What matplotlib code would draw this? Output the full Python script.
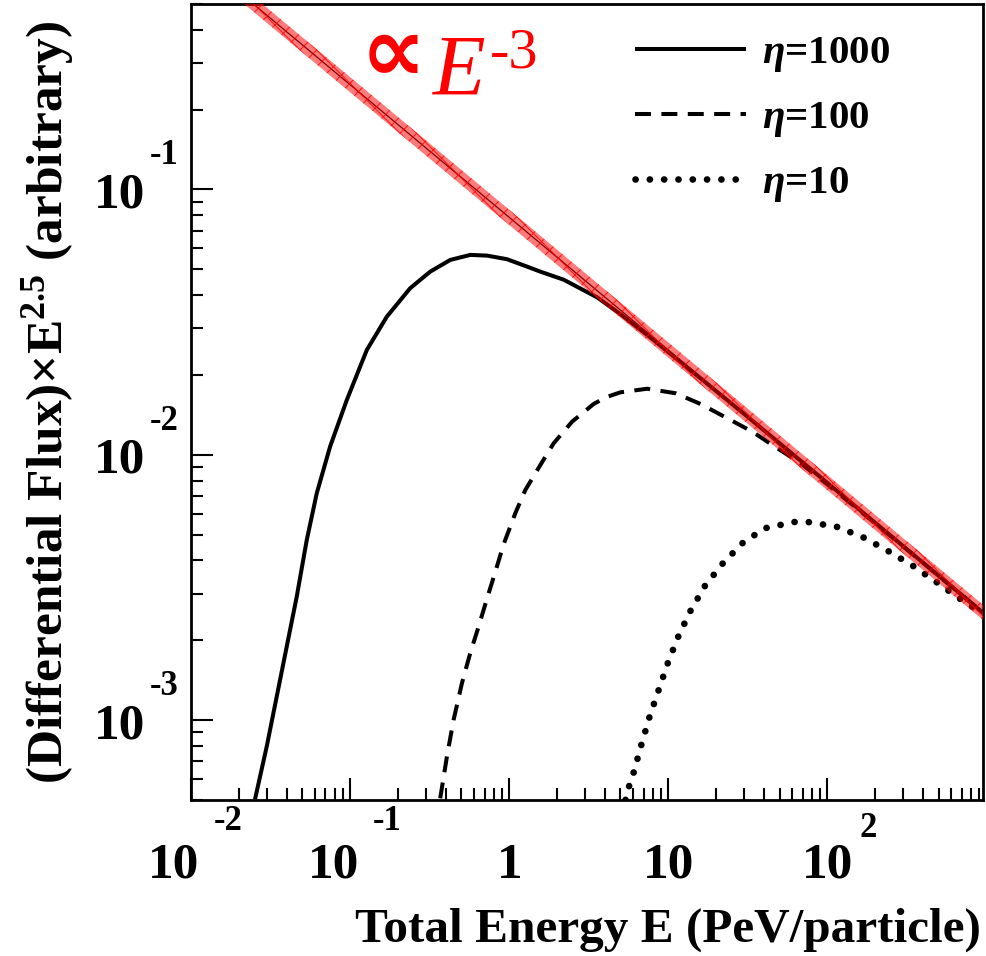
import numpy as np
import matplotlib
matplotlib.use("Agg")
import matplotlib.pyplot as plt
from matplotlib.lines import Line2D
from matplotlib.ticker import LogLocator, NullFormatter, FixedLocator

plt.rcParams['font.family'] = ['Liberation Serif', 'DejaVu Serif']
plt.rcParams['font.weight'] = 'bold'
plt.rcParams['mathtext.fontset'] = 'custom'
plt.rcParams['mathtext.rm'] = 'Liberation Serif:bold'
plt.rcParams['mathtext.bf'] = 'Liberation Serif:bold'
plt.rcParams['mathtext.it'] = 'Liberation Serif:italic'
plt.rcParams['lines.scale_dashes'] = False
plt.rcParams['hatch.linewidth'] = 0.7
plt.rcParams['hatch.color'] = 'red'

# --- data (E in PeV/particle, flux x E^2.5 arbitrary) ---
energy_1000 = [0.02525, 0.0299, 0.03457, 0.03995, 0.04619, 0.0534, 0.06172, 0.07482,
               0.09532, 0.1274, 0.1702, 0.2385, 0.3188, 0.4259, 0.5691, 0.7249, 0.9687,
               1.294, 1.57, 2.2, 3.57, 5.0, 8.0, 15.0, 30.0, 100.0, 300.0, 950.0]
flux_1000 = [5.03e-4, 7.94e-4, 1.226e-3, 1.891e-3, 2.919e-3, 4.775e-3, 7.163e-3, 0.01073,
             0.01609, 0.02485, 0.03317, 0.04244, 0.04901, 0.05425, 0.05667, 0.05633, 0.05459,
             0.0512, 0.0490, 0.0457, 0.0392, 0.0339, 0.0272, 0.0200, 0.01425, 0.00783, 0.00452, 0.00254]

energy_100 = [0.3684, 0.4061, 0.4467, 0.5047, 0.5691, 0.6418, 0.7249, 0.8176, 0.9222, 1.092,
              1.263, 1.57, 1.903, 2.484, 3.397, 4.08, 5.002, 7.365, 11.10, 15.94, 23.48, 33.73,
              48.45, 67.9, 100.0, 200.0, 400.0, 950.0]
flux_100 = [5.074e-4, 7.3e-4, 1.0e-3, 1.38e-3, 1.79e-3, 2.25e-3, 2.87e-3, 3.62e-3, 4.6e-3,
            6.02e-3, 7.37e-3, 9.156e-3, 0.01105, 0.01333, 0.01555, 0.0165, 0.0172, 0.01774, 0.01706,
            0.01554, 0.01373, 0.01222, 0.01058, 9.29e-3, 7.73e-3, 5.51e-3, 3.91e-3, 2.54e-3]

energy_10 = [5.38, 5.674, 6.066, 6.783, 7.616, 8.713, 9.956, 11.59, 13.8, 16.97, 21.84,
             29.18, 40.31, 61.64, 75.49, 113.9, 167.5, 238.6, 342.6, 480.5, 673.2, 950.0]
flux_10 = [5.0e-4, 5.646e-4, 6.366e-4, 8.11e-4, 1.028e-3, 1.304e-3, 1.65e-3, 2.076e-3,
           2.585e-3, 3.202e-3, 3.878e-3, 4.64e-3, 5.284e-3, 5.58e-3, 5.58e-3, 5.359e-3,
           4.889e-3, 4.352e-3, 3.822e-3, 3.324e-3, 2.879e-3, 2.52e-3]

# E^-3 reference (x E^2.5 -> slope -0.5), two end points
ref_energy = [0.01, 950.0]
ref_flux = [0.785, 0.002547]

series_labels = [r'$\eta$=1000', r'$\eta$=100', r'$\eta$=10']

x_major = [0.01, 0.1, 1, 10, 100]
x_tick_text = [("10", "-2"), ("10", "-1"), ("1", ""), ("10", ""), ("10", "2")]
y_major = [1e-3, 1e-2, 1e-1]
y_tick_text = [("10", "-3"), ("10", "-2"), ("10", "-1")]

x_range = (0.01, 950)
y_range = (5e-4, 0.5)

# --- figure ---
fig = plt.figure(figsize=(9.86, 9.56), dpi=100)
ax = fig.add_axes([191 / 986, 156 / 956, 792 / 986, 796 / 956])
ax.set_xscale('log')
ax.set_yscale('log')
ax.set_xlim(*x_range)
ax.set_ylim(*y_range)

solid_style = dict(color='black', linewidth=2.9, solid_capstyle='butt', solid_joinstyle='round')
dash_style = dict(color='black', linewidth=2.9, linestyle=(0, (11.5, 7.5)), dash_capstyle='butt')
dot_style = dict(color='black', linewidth=4.8, linestyle=(0, (0.1, 10.2)), dash_capstyle='round')

ax.plot(energy_1000, flux_1000, **solid_style)
ax.plot(energy_100, flux_100, **dash_style)
ax.plot(energy_10, flux_10, **dot_style)

# reference band: translucent red with cross hatch, thin dark core
band = 1.068
ax.plot(ref_energy, ref_flux, color='black', linewidth=0.9, zorder=4)
ax.fill_between(ref_energy, np.array(ref_flux) / band, np.array(ref_flux) * band,
                facecolor=(1, 0, 0, 0.52), edgecolor=(1, 0, 0, 0.85), hatch='xx',
                linewidth=0, zorder=5)

# frame and ticks (ROOT style: inward, bottom/left only)
for s in ax.spines.values():
    s.set_linewidth(2.0)
ax.xaxis.set_major_locator(FixedLocator(x_major))
ax.yaxis.set_major_locator(FixedLocator(y_major))
ax.xaxis.set_minor_locator(LogLocator(base=10, subs=range(2, 10), numticks=20))
ax.yaxis.set_minor_locator(LogLocator(base=10, subs=range(2, 10), numticks=20))
ax.xaxis.set_minor_formatter(NullFormatter())
ax.yaxis.set_minor_formatter(NullFormatter())
ax.tick_params(which='both', direction='in', top=False, right=False,
               labelbottom=False, labelleft=False, width=1.5)
ax.tick_params(which='major', length=16)
ax.tick_params(which='minor', length=8.5)

# tick labels drawn by hand, ROOT-like "10" with detached exponent
for v, (base, expo) in zip(x_major, x_tick_text):
    neg = expo.startswith('-')
    dx = -17 if neg else 0
    ax.annotate(base, xy=(v, 0), xycoords=('data', 'axes fraction'), xytext=(dx, -78),
                textcoords='offset pixels', ha='center', va='baseline', fontsize=37)
    if expo:
        ax.annotate(expo, xy=(v, 0), xycoords=('data', 'axes fraction'),
                    xytext=((23 if neg else 32), (-30 if neg else -37)),
                    textcoords='offset pixels', ha='left', va='baseline', fontsize=25)

for v, (base, expo) in zip(y_major, y_tick_text):
    ax.annotate(base, xy=(0, v), xycoords=('axes fraction', 'data'), xytext=(-46, -18),
                textcoords='offset pixels', ha='right', va='baseline', fontsize=37)
    ax.annotate(expo, xy=(0, v), xycoords=('axes fraction', 'data'), xytext=(-41, 25),
                textcoords='offset pixels', ha='left', va='baseline', fontsize=25)

# axis titles
fig.text(981 / 986, (956 - 942) / 956, 'Total Energy E (PeV/particle)',
         ha='right', va='baseline', fontsize=35.5)
fig.text(62 / 986, (956 - 402) / 956, r'(Differential Flux)$\times$E$^{\mathbf{2.5}}$ (arbitrary)',
         ha='center', va='baseline', rotation=90, rotation_mode='anchor', fontsize=37)

# proportional-to label
ax.text((393 - 191) / 792, (800 - 81) / 796, '\u221d', transform=ax.transAxes, color='red',
        fontsize=66, fontweight='bold', family='DejaVu Sans', ha='center', va='baseline')
ax.text((432 - 191) / 792, (800 - 95) / 796, 'E', transform=ax.transAxes, color='red',
        fontsize=62, fontweight='normal', style='italic', ha='left', va='baseline')
ax.text((490 - 191) / 792, (800 - 67) / 796, '-3', transform=ax.transAxes, color='red',
        fontsize=42, fontweight='normal', ha='left', va='baseline')

handles = [Line2D([], [], **solid_style), Line2D([], [], **dash_style), Line2D([], [], **dot_style)]
ax.legend(handles, series_labels, loc='upper left', bbox_to_anchor=((635 - 191) / 792, 0.962),
          frameon=False, fontsize=29.5, handlelength=2.72, handletextpad=0.38,
          labelspacing=0.62, borderpad=0, borderaxespad=0)

fig.savefig('out.png', dpi=100)
